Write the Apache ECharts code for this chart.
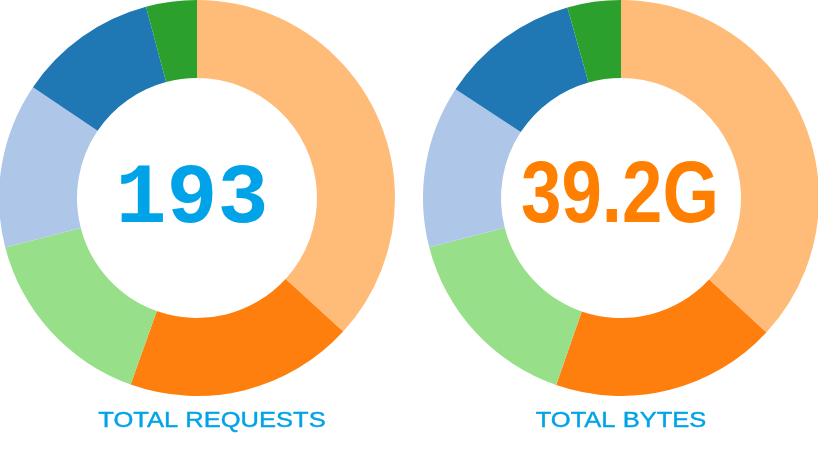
<!DOCTYPE html>
<html>
<head>
<meta charset="utf-8">
<script src="https://cdn.jsdelivr.net/npm/echarts@6/dist/echarts.min.js"></script>
<style>
html,body{margin:0;padding:0;background:#fff;}
#c{width:818px;height:454px;}
</style>
</head>
<body>
<div id="c"></div>
<script>
var categories = ['A', 'B', 'C', 'D', 'E', 'F'];
var requestValues = [71, 36, 30, 26, 22, 8];
var byteValues = [14.45, 7.22, 6.15, 5.19, 4.46, 1.71];
var colors = ['#ffbb78', '#ff7f0e', '#98df8a', '#aec7e8', '#1f77b4', '#2ca02c'];
var requestTotal = '193';
var bytesTotal = '39.2G';
var requestLabel = 'TOTAL REQUESTS';
var bytesLabel = 'TOTAL BYTES';

function toData(vals) {
  return vals.map(function (v, i) { return { name: categories[i], value: v }; });
}

var chart = echarts.init(document.getElementById('c'), null, { renderer: 'canvas' });
var pieBase = {
  type: 'pie',
  radius: [120, 198],
  startAngle: 90,
  clockwise: true,
  label: { show: false },
  labelLine: { show: false },
  silent: true,
  animation: false,
  itemStyle: { borderWidth: 0 },
  emphasis: { disabled: true }
};
chart.setOption({
  animation: false,
  color: colors,
  series: [
    Object.assign({}, pieBase, { center: [197, 198], data: toData(requestValues) }),
    Object.assign({}, pieBase, { center: [621, 198], data: toData(byteValues) })
  ],
  graphic: [
    { type: 'text', x: 192, y: 201, silent: true,
      style: { text: requestTotal, fill: '#00a3e8', font: 'bold 85px "Liberation Mono"', align: 'center', verticalAlign: 'middle' } },
    { type: 'text', x: 620, y: 198, scaleX: 0.825, silent: true,
      style: { text: bytesTotal, fill: '#ff8000', font: 'bold 88px "Liberation Sans"', align: 'center', verticalAlign: 'middle' } },
    { type: 'text', x: 212, y: 421, scaleX: 1.16, silent: true,
      style: { text: requestLabel, fill: '#00a3e8', font: '22px "Liberation Sans"', align: 'center', verticalAlign: 'middle', stroke: '#00a3e8', lineWidth: 0.4 } },
    { type: 'text', x: 621, y: 421, scaleX: 1.16, silent: true,
      style: { text: bytesLabel, fill: '#00a3e8', font: '22px "Liberation Sans"', align: 'center', verticalAlign: 'middle', stroke: '#00a3e8', lineWidth: 0.4 } }
  ]
});
</script>
</body>
</html>
